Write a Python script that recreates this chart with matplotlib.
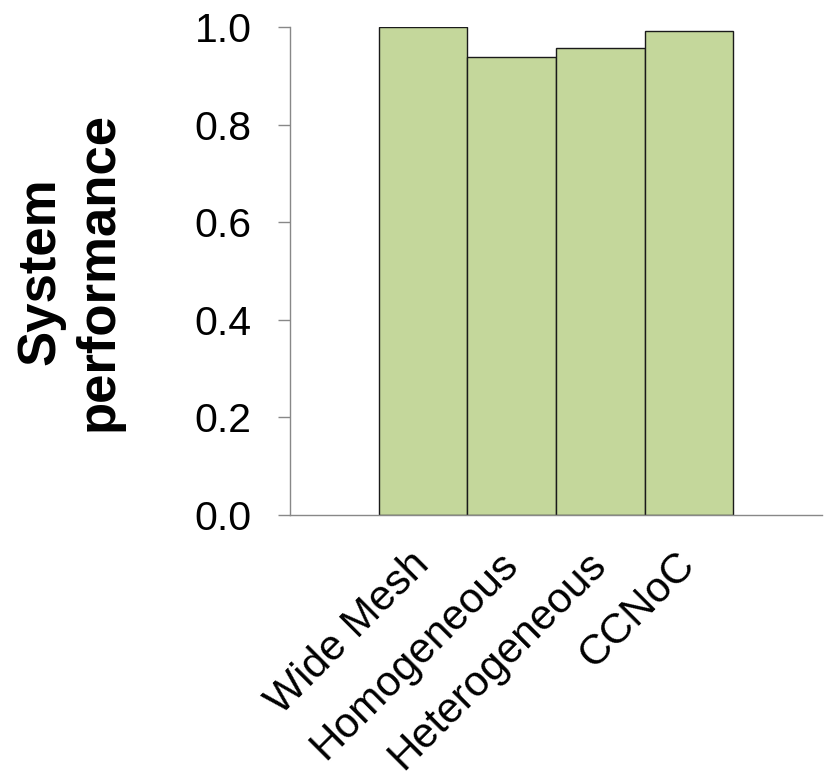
import numpy as np
import matplotlib.pyplot as plt

plt.rcParams['font.family'] = ['Liberation Sans', 'DejaVu Sans']

# Normalised system performance per NoC design
designs = ['Wide Mesh', 'Homogeneous', 'Heterogeneous', 'CCNoC']
perf = [1.0, 0.938, 0.957, 0.992]
yticks = [0.0, 0.2, 0.4, 0.6, 0.8, 1.0]

fig = plt.figure(figsize=(8.27, 7.78), dpi=100)
ax = fig.add_axes([0.3507, 0.338, 0.6433, 0.6273])

x = np.arange(1, len(designs) + 1)
ax.bar(x, perf, width=1.0, color='#C4D79B', edgecolor='#1a1a1a', linewidth=1.0)

ax.set_xlim(-0.5, 5.5)
ax.set_ylim(0, 1.0)
ax.set_yticks(yticks)
ax.set_yticklabels(['%.1f' % t for t in yticks], fontsize=29.5)
ax.set_xticks(x)
ax.set_xticklabels(designs, fontsize=30.5, rotation=45, ha='right',
                   va='center', rotation_mode='anchor')
ax.tick_params(axis='x', length=0, pad=31)
ax.tick_params(axis='y', length=8.6, width=1, color='#888888', pad=19)

for s in ['top', 'right']:
    ax.spines[s].set_visible(False)
for s in ['left', 'bottom']:
    ax.spines[s].set_color('#888888')
    ax.spines[s].set_linewidth(1)

ax.set_ylabel('System\nperformance', fontsize=38, fontweight='bold',
              labelpad=51, linespacing=1.22)

fig.savefig('out.png', dpi=100)
